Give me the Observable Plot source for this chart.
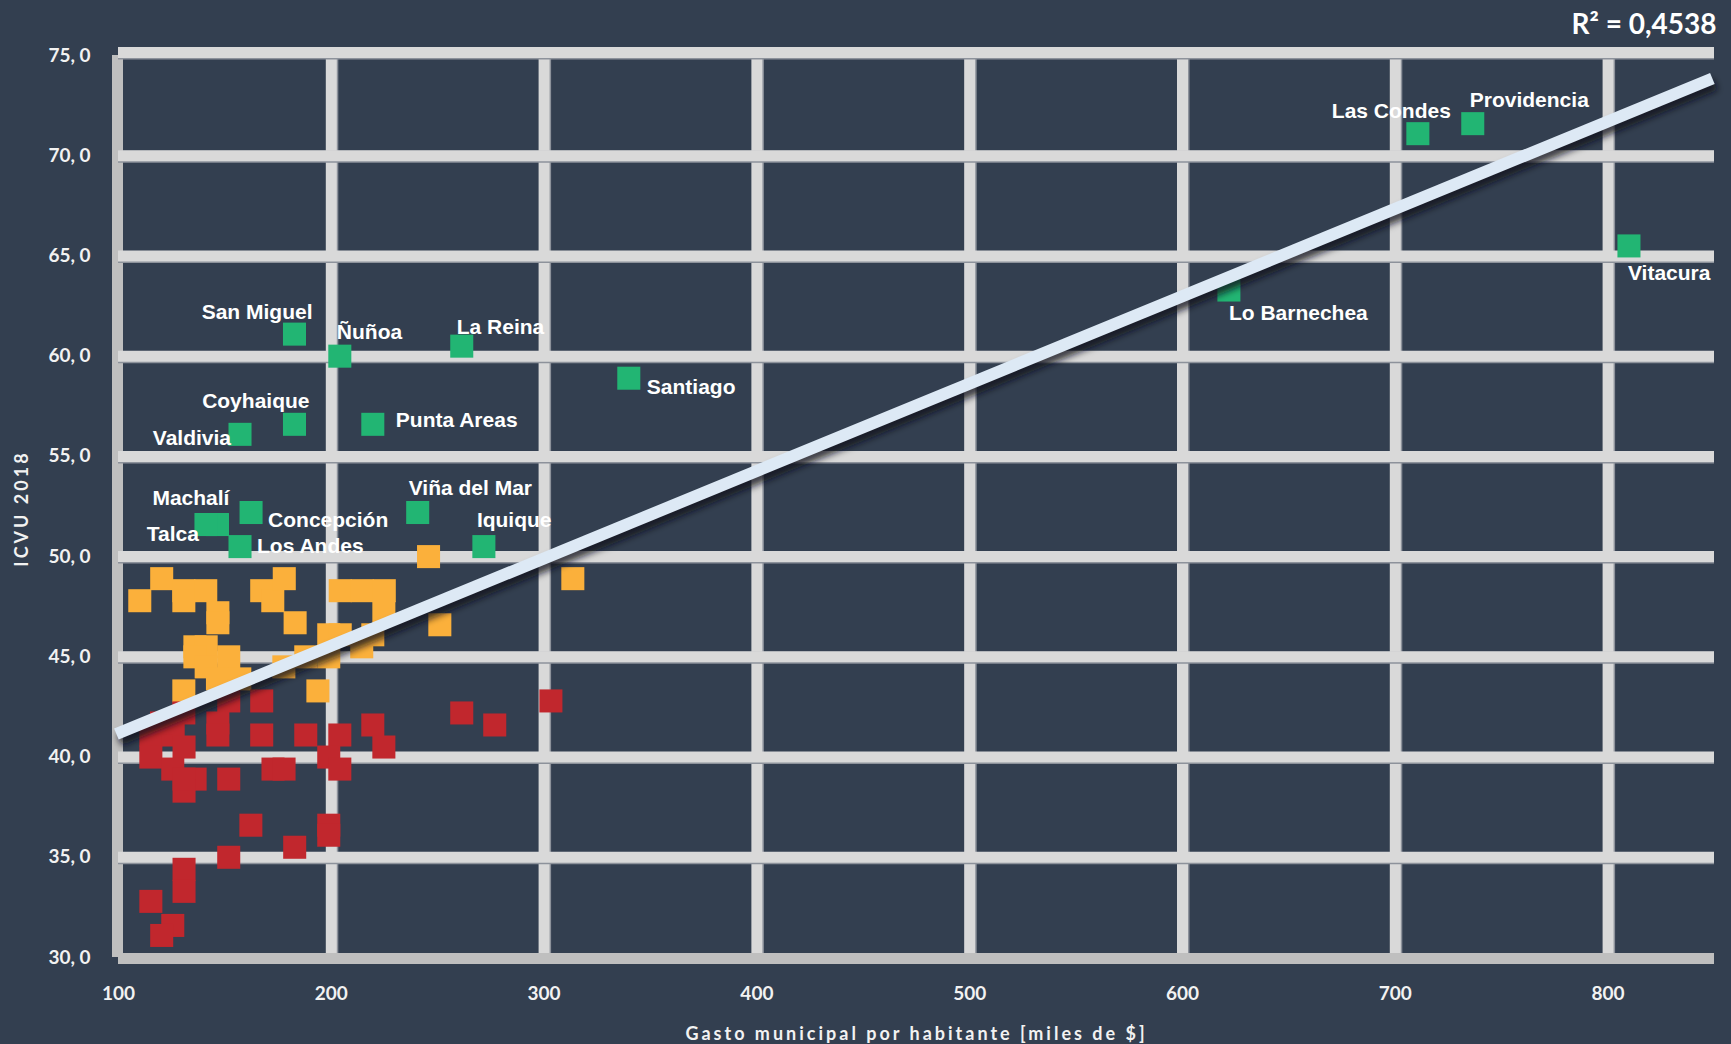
<!DOCTYPE html>
<html>
<head>
<meta charset="utf-8">
<script src="https://cdn.jsdelivr.net/npm/d3@7"></script>
<script src="https://cdn.jsdelivr.net/npm/@observablehq/plot@0.6"></script>
<style>
  html, body { margin: 0; padding: 0; background: #333f50; }
  #chart { width: 1731px; height: 1044px; overflow: hidden; }
</style>
</head>
<body>
<div id="chart"></div>
<script>
// ---------------- DATA ----------------
const greenNames = ["Las Condes", "Providencia", "Vitacura", "Lo Barnechea", "Santiago", "San Miguel", "Ñuñoa", "La Reina", "Coyhaique", "Valdivia", "Punta Areas", "Viña del Mar", "Machalí", "Concepción", "Talca", "Los Andes", "Iquique"];
const greenX = [710.6, 736.4, 809.8, 621.8, 339.8, 182.7, 204.0, 261.3, 182.7, 157.1, 219.5, 240.6, 146.5, 162.3, 141.1, 157.1, 271.7];
const greenY = [71.1, 71.6, 65.5, 63.3, 58.9, 61.1, 60.0, 60.5, 56.6, 56.1, 56.6, 52.2, 51.6, 52.2, 51.6, 50.5, 50.5];

const yellowX = [110.0, 120.3, 130.7, 130.7, 141.0, 146.7, 146.7, 135.9, 141.2, 135.9, 151.8, 141.2, 157.0, 130.7, 146.5, 167.3, 172.5, 177.9, 183.0, 177.7, 188.0, 198.8, 198.8, 204.2, 214.3, 219.5, 224.7, 204.2, 214.5, 224.9, 193.7, 245.7, 251.0, 313.5];
const yellowY = [47.8, 48.9, 48.3, 47.8, 48.3, 47.2, 46.7, 45.5, 45.5, 45.0, 45.0, 44.5, 43.9, 43.3, 43.9, 48.3, 47.8, 48.9, 46.7, 44.5, 45.0, 45.0, 46.1, 46.1, 45.5, 46.1, 47.2, 48.3, 48.3, 48.3, 43.3, 50.0, 46.6, 48.9];

const redX = [151.8, 167.3, 146.7, 146.7, 167.3, 188.0, 204.0, 219.5, 224.7, 198.8, 204.0, 172.6, 177.8, 151.8, 162.2, 182.8, 151.8, 130.8, 130.8, 115.2, 125.5, 120.3, 198.8, 198.8, 261.3, 276.8, 303.2, 130.7, 115.2, 125.7, 115.2, 130.8, 125.5, 136.0, 130.8, 120.2, 130.8];
const redY = [42.8, 42.8, 41.7, 41.1, 41.1, 41.1, 41.1, 41.6, 40.5, 40.0, 39.4, 39.4, 39.4, 38.9, 36.6, 35.5, 35.0, 34.4, 33.3, 32.8, 31.6, 31.1, 36.6, 36.1, 42.2, 41.6, 42.8, 42.2, 41.1, 41.1, 40.0, 40.5, 39.4, 38.9, 38.3, 41.7, 38.9];

const trendX = [99, 849];
const trendY = [41.15, 73.85];

const xTicks = [100, 200, 300, 400, 500, 600, 700, 800];
const yTicks = [30, 35, 40, 45, 50, 55, 60, 65, 70, 75];

const r2Label = "R² = 0,4538";
const xTitle = "Gasto municipal por habitante [miles de $]";
const yTitle = "ICVU 2018";

// ---------------- LAYOUT (label placement) ----------------
const labelLayout = {
  "Las Condes":   {anchor: "end",   dx: 33, dy: -16},
  "Providencia":  {anchor: "start", dx: -3, dy: -17},
  "Vitacura":     {anchor: "start", dx: -1, dy: 34},
  "Lo Barnechea": {anchor: "start", dx: 0,  dy: 30},
  "Santiago":     {anchor: "start", dx: 18, dy: 16},
  "San Miguel":   {anchor: "end",   dx: 18, dy: -15},
  "Ñuñoa":        {anchor: "start", dx: -3, dy: -17},
  "La Reina":     {anchor: "start", dx: -5, dy: -12},
  "Coyhaique":    {anchor: "end",   dx: 15, dy: -16},
  "Valdivia":     {anchor: "end",   dx: -9, dy: 11},
  "Punta Areas":  {anchor: "start", dx: 23, dy: 3},
  "Viña del Mar": {anchor: "start", dx: -9, dy: -18},
  "Machalí":      {anchor: "end",   dx: 12, dy: -20},
  "Concepción":   {anchor: "start", dx: 17, dy: 14},
  "Talca":        {anchor: "end",   dx: -7, dy: 16},
  "Los Andes":    {anchor: "start", dx: 17, dy: 6},
  "Iquique":      {anchor: "start", dx: -7, dy: -20}
};

// ---------------- BUILD ----------------
const green = greenNames.map((name, i) => ({name, x: greenX[i], y: greenY[i]}));
const yellow = yellowX.map((x, i) => ({x, y: yellowY[i]}));
const red = redX.map((x, i) => ({x, y: redY[i]}));
const trendSeg = [{x1: trendX[0], y1: trendY[0], x2: trendX[1], y2: trendY[1]}];

const SQ = 13; // square side ≈ 23px
const labelFont = "'Liberation Sans', Arial, sans-serif";

const labelMarks = green.map(d => {
  const L = labelLayout[d.name];
  return Plot.text([d], {
    x: "x", y: "y", text: "name",
    textAnchor: L.anchor, dx: L.dx, dy: L.dy, lineAnchor: "bottom",
    fontFamily: labelFont, fontSize: 21, fontWeight: "bold", fill: "#ffffff"
  });
});

const chart = Plot.plot({
  width: 1731,
  height: 1044,
  marginLeft: 118,
  marginRight: 17,
  marginTop: 55,
  marginBottom: 87,
  x: {domain: [100, 850]},
  y: {domain: [30, 75]},
  style: {
    background: "#333f50",
    color: "#f2f2f2",
    fontFamily: "Lato, 'Open Sans', sans-serif",
    fontWeight: "bold",
    fontSize: "19px",
    overflow: "visible"
  },
  marks: [
    // vertical gridlines + left axis line
    Plot.ruleX(xTicks.slice(1), {stroke: "#8d929b", strokeWidth: 12, dx: 1}),
    Plot.ruleX(xTicks.slice(1), {stroke: "#d9d9d9", strokeWidth: 11}),
    Plot.ruleX([xTicks[0]], {stroke: "#bfbfbf", strokeWidth: 11, dx: -1}),
    // horizontal gridlines (top border drawn slightly raised) + bottom axis line
    Plot.ruleY(yTicks.slice(1, -1), {stroke: "#8d929b", strokeWidth: 12, dy: 1}),
    Plot.ruleY(yTicks.slice(1, -1), {stroke: "#d9d9d9", strokeWidth: 11}),
    Plot.ruleY(yTicks.slice(-1), {stroke: "#8d929b", strokeWidth: 12, dy: -2}),
    Plot.ruleY(yTicks.slice(-1), {stroke: "#d9d9d9", strokeWidth: 11, dy: -3}),
    Plot.ruleY([yTicks[0]], {stroke: "#bfbfbf", strokeWidth: 11, dy: 1}),
    // axes
    Plot.axisX(xTicks, {tickSize: 0, tickPadding: 29, label: null, fontSize: 19, fontWeight: "bold", fill: "#f2f2f2"}),
    Plot.axisY(yTicks, {tickSize: 0, tickPadding: 28, label: null, tickFormat: d => `${d}, 0`, fontSize: 19, fontWeight: "bold", fill: "#f2f2f2"}),
    // points
    Plot.dot(yellow, {x: "x", y: "y", symbol: "square", r: SQ, fill: "#fbb03b"}),
    Plot.dot(red, {x: "x", y: "y", symbol: "square", r: SQ, fill: "#c1272d"}),
    Plot.dot(green, {x: "x", y: "y", symbol: "square", r: SQ, fill: "#22b573"}),
    // trend line with soft shadow
    Plot.link(trendSeg, {x1: "x1", y1: "y1", x2: "x2", y2: "y2", stroke: "#0a0e16", strokeOpacity: 0.8, strokeWidth: 12, dx: 3, dy: 6, className: "trend-shadow"}),
    Plot.link(trendSeg, {x1: "x1", y1: "y1", x2: "x2", y2: "y2", stroke: "#dde9f5", strokeWidth: 12, className: "trend"}),
    // labels
    ...labelMarks,
    // R² annotation
    Plot.text([r2Label], {text: d => d, frameAnchor: "top-right", dx: 2, dy: -22, textAnchor: "end", lineAnchor: "bottom", fontSize: 28, fontWeight: "bold", fill: "#ffffff"}),
    // axis titles
    Plot.text([xTitle], {text: d => d, frameAnchor: "bottom", dy: 82, textAnchor: "middle", lineAnchor: "bottom", fontSize: 18, fontWeight: "bold", fill: "#f2f2f2", className: "x-title"}),
    Plot.text([yTitle], {text: d => d, frameAnchor: "left", dx: -96, dy: 2, textAnchor: "middle", rotate: -90, fontSize: 18, fontWeight: "bold", fill: "#f2f2f2", className: "y-title"})
  ]
});

document.getElementById("chart").appendChild(chart);

// post-processing: soft shadow on trend line, letter-spaced axis titles
try {
  const svg = d3.select(chart);
  let shadow = svg.selectAll(".trend-shadow");
  if (shadow.empty()) shadow = svg.selectAll("g[aria-label='link']").filter((d, i) => i === 0);
  const texts = svg.selectAll("g[aria-label='text']");
  const nT = texts.size();
  let xt = svg.selectAll(".x-title text");
  if (xt.empty()) xt = texts.filter((d, i) => i === nT - 2).selectAll("text");
  let yt = svg.selectAll(".y-title text");
  if (yt.empty()) yt = texts.filter((d, i) => i === nT - 1).selectAll("text");

  const ns = "http://www.w3.org/2000/svg";
  const defs = document.createElementNS(ns, "defs");
  const filt = document.createElementNS(ns, "filter");
  filt.setAttribute("id", "trendBlur");
  filt.setAttribute("x", "-10%"); filt.setAttribute("y", "-60%");
  filt.setAttribute("width", "120%"); filt.setAttribute("height", "220%");
  const blur = document.createElementNS(ns, "feGaussianBlur");
  blur.setAttribute("stdDeviation", "3.5");
  filt.appendChild(blur); defs.appendChild(filt);
  chart.insertBefore(defs, chart.firstChild);
  shadow.attr("filter", "url(#trendBlur)");
  xt.style("letter-spacing", "3px");
  yt.style("letter-spacing", "3px");
} catch (e) { /* ignore */ }
</script>
</body>
</html>
